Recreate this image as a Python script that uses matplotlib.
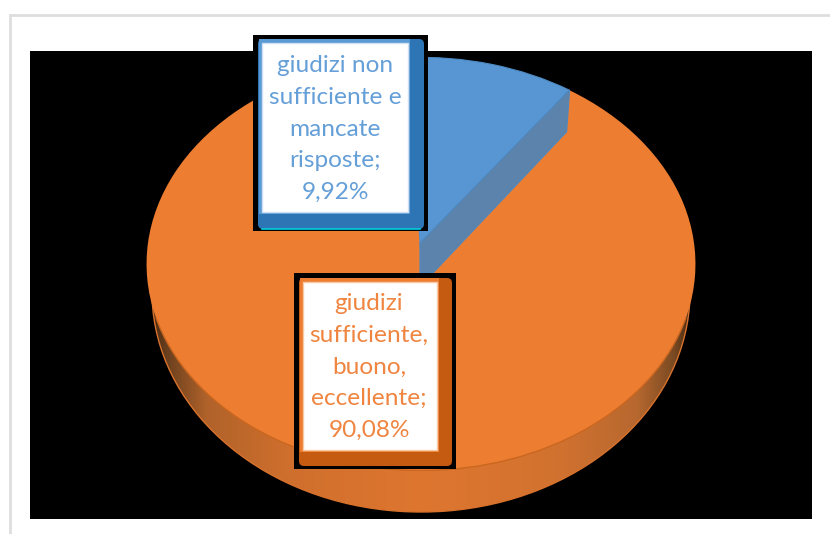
import numpy as np
import matplotlib
matplotlib.use('Agg')
import matplotlib.pyplot as plt
from matplotlib.colors import LinearSegmentedColormap
from matplotlib.patches import Rectangle, Circle, FancyBboxPatch, Polygon, Arc

# Data
values = [9.92, 90.08]
value_labels = ['9,92%', '90,08%']
names = ['giudizi non\nsufficiente e\nmancate\nrisposte;', 'giudizi\nsufficiente,\nbuono,\neccellente;']
colors = ['#5796D2', '#ED7D31']

W, H = 830, 534
plt.rcParams['font.family'] = ['Lato', 'DejaVu Sans']
fig = plt.figure(figsize=(W / 100, H / 100), dpi=100, facecolor='white')


def box_axes(left, top, right, bottom, z):
    # axes placed by pixel box, y counted from the top
    ax = fig.add_axes([left / W, 1 - bottom / H, (right - left) / W, (bottom - top) / H], zorder=z)
    return ax


# background: frame and black plot area
bg = box_axes(0, 0, W, H, 0)
bg.set_xlim(0, W)
bg.set_ylim(H, 0)
bg.axis('off')
bg.plot([10, 10, W], [H, 15, 15], color='#dedede', lw=2, solid_joinstyle='miter')
bg.add_patch(Rectangle((30, 51), 782, 468, color='black', lw=0))

# pie body (the rim under the top face)
body = box_axes(152, 72, 690, 512, 1)
body_wedges, _ = body.pie(values, startangle=93, counterclock=False, radius=1, frame=False)
body.set_aspect('auto')
rim_cmap = LinearSegmentedColormap.from_list('rim', [
    (0.0, '#4a2c14'), (0.03, '#6e421f'), (0.10, '#b0622a'), (0.25, '#cf6f2d'),
    (0.5, '#de762f'), (0.75, '#d2722f'), (0.9, '#b8682f'), (0.97, '#7a4a22'), (1.0, '#4a2c14')])
im = body.imshow(np.linspace(0, 1, 256).reshape(1, -1), cmap=rim_cmap, extent=(-1, 1, -1, 1),
                 aspect='auto', zorder=2)
im.set_clip_path(Circle((0, 0), 1, transform=body.transData))
for w in body_wedges:
    w.set_facecolor('none')
    w.set_edgecolor('#d9722c')
    w.set_linewidth(1)
    w.set_zorder(3)
body.set_xlim(-1, 1)
body.set_ylim(-1, 1)

# pie top face
top_l, top_t, top_r, top_b = 146, 57, 696, 471
top = box_axes(top_l, top_t, top_r, top_b, 2)
wedges, _ = top.pie(values, colors=colors, startangle=93, counterclock=False, radius=1, frame=False,
                    wedgeprops={'linewidth': 0})
top.set_aspect('auto')
top.set_xlim(-1.002, 1.002)
top.set_ylim(-1.002, 1.002)
# darker line only along the front of the face
top.add_patch(Arc((0, 0), 2, 2, theta1=195, theta2=345, ec='#c9661f', lw=1))
wedges[0].set_edgecolor('#4f8cc6')
wedges[0].set_linewidth(0.8)

# overlay: wall of the blue slice and the two labels
fg = box_axes(0, 0, W, H, 3)
fg.set_xlim(0, W)
fg.set_ylim(H, 0)
fg.axis('off')
fg.patch.set_alpha(0)

cx, cy = (top_l + top_r) / 2, (top_t + top_b) / 2
rx, ry = (top_r - top_l) / 2, (top_b - top_t) / 2
theta = np.radians(wedges[0].theta1)
corner = (cx + rx * np.cos(theta), cy - ry * np.sin(theta))
fg.add_patch(Polygon([(420, 243), corner, (corner[0] - 3, corner[1] + 42), (433, 273), (420, 273)],
                     closed=True, fc='#5b83ab', ec='#4f88c0', lw=0.8))


def label_box(black, bevel, face, light, dark, pale, text, text_xy, text_color, accent=None):
    bl, bt, br, bb = black
    fg.add_patch(Rectangle((bl, bt), br - bl, bb - bt, color='black', lw=0))
    l, t, r, b = bevel
    fg.add_patch(FancyBboxPatch((l + 4, t + 4), r - l - 8, b - t - 8, boxstyle='round,pad=4,rounding_size=5',
                                fc=dark, ec='none'))
    if accent:
        fg.plot([l + 4, r - 4], [b - 0.5, b - 0.5], color=accent, lw=1.2)
    fl, ft, fr, fb = face
    fg.add_patch(Rectangle((l + 1, t), fr + 2 - l - 1, fb + 2 - t, fc=light, ec='none'))
    fg.add_patch(Rectangle((fl, ft), fr - fl, fb - ft, fc='white', ec=pale, lw=1))
    fg.text(text_xy[0], text_xy[1], text, color=text_color, fontsize=17.6, ha='center', va='center',
            linespacing=1.62)


label_box((253, 35, 428, 231), (258, 39, 424, 229), (262, 43, 408, 212), '#5B9BD5', '#2E75B6', '#cfe0f2',
          names[0] + '\n' + value_labels[0], (335, 129), '#659FD8', accent='#00cfe0')
label_box((294, 273, 456, 469), (299, 278, 452, 466), (303, 282, 437, 450), '#ED7D31', '#C55A11', '#f7c9a5',
          names[1] + '\n' + value_labels[1], (369, 367), '#EF8540')

fig.savefig('out.png', dpi=100)
